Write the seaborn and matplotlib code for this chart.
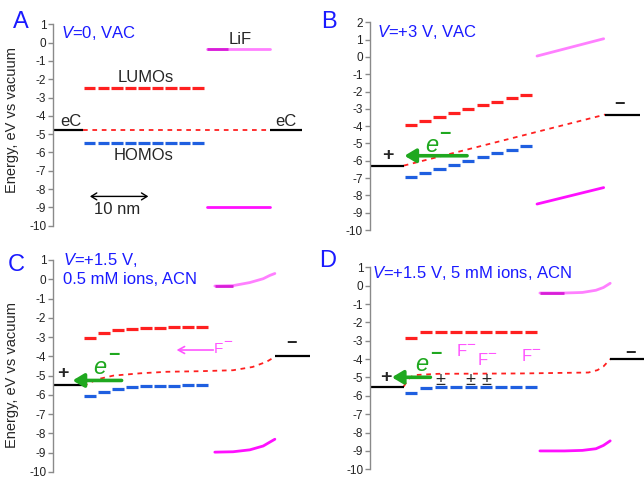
import numpy as np
import matplotlib
matplotlib.use("Agg")
import matplotlib.pyplot as plt
import seaborn as sns

sns.set_style("white")
plt.rcParams['font.family'] = ['Liberation Sans', 'DejaVu Sans']
plt.rcParams['axes.unicode_minus'] = False
plt.rcParams['mathtext.fontset'] = 'custom'
plt.rcParams['mathtext.it'] = 'Liberation Sans:italic'
plt.rcParams['mathtext.rm'] = 'Liberation Sans'

# ---------------- data ----------------
mol = [0, 1, 2, 3, 4, 5, 6, 7, 8]

# Panel A: V=0, VAC
lumo_A = [-2.47, -2.47, -2.47, -2.47, -2.47, -2.47, -2.47, -2.47, -2.47]
homo_A = [-5.47, -5.47, -5.47, -5.47, -5.47, -5.47, -5.47, -5.47, -5.47]
fermi_x_A = [0.0, 13.78]
fermi_y_A = [-4.8, -4.8]
lif_x_A = [9.14, 13.78]
lif_top_A = [-0.37, -0.37]
lif_bot_A = [-8.96, -8.96]
eL_A, eR_A = -4.8, -4.8

# Panel B: V=+3 V, VAC
lumo_B = [-3.95, -3.7, -3.47, -3.25, -3.02, -2.8, -2.6, -2.37, -2.18]
homo_B = [-6.92, -6.7, -6.47, -6.25, -6.02, -5.8, -5.58, -5.35, -5.12]
fermi_x_B = [0.0, 13.97]
fermi_y_B = [-6.28, -3.33]
lif_x_B = [9.24, 13.86]
lif_top_B = [0.05, 1.05]
lif_bot_B = [-8.5, -7.55]
eL_B, eR_B = -6.28, -3.33

# Panel C: V=+1.5 V, 0.5 mM ions, ACN
lumo_C = [-3.05, -2.8, -2.65, -2.57, -2.53, -2.52, -2.5, -2.5, -2.48]
homo_C = [-6.08, -5.83, -5.68, -5.58, -5.55, -5.53, -5.52, -5.5, -5.48]
fermi_x_C = [0.0, 0.95, 2.14, 4.05, 5.95, 8.33, 10.7, 12.1, 13.1, 13.7]
fermi_y_C = [-5.55, -5.2, -5.0, -4.88, -4.8, -4.77, -4.72, -4.55, -4.28, -4.02]
lif_x_C = [9.4, 10.7, 11.9, 12.86, 13.33, 13.69]
lif_top_C = [-0.35, -0.33, -0.17, 0.03, 0.2, 0.3]
lif_bot_C = [-8.97, -8.95, -8.85, -8.65, -8.45, -8.3]
eL_C, eR_C = -5.5, -4.0

# Panel D: V=+1.5 V, 5 mM ions, ACN
lumo_D = [-2.85, -2.52, -2.5, -2.5, -2.5, -2.5, -2.5, -2.5, -2.5]
homo_D = [-5.87, -5.55, -5.5, -5.5, -5.5, -5.5, -5.5, -5.5, -5.5]
fermi_x_D = [0.0, 0.29, 0.67, 2.33, 7.9, 12.3, 12.9, 13.3, 13.75]
fermi_y_D = [-5.5, -5.1, -4.87, -4.8, -4.78, -4.73, -4.6, -4.4, -4.0]
lif_x_D = [9.07, 10.7, 11.9, 12.8, 13.3, 13.75]
lif_top_D = [-0.4, -0.4, -0.37, -0.25, -0.1, 0.13]
lif_bot_D = [-9.0, -9.0, -8.97, -8.88, -8.7, -8.45]
eL_D, eR_D = -5.5, -4.0

ticks_A = [1, 0, -1, -2, -3, -4, -5, -6, -7, -8, -9, -10]
ticks_B = [2, 1, 0, -1, -2, -3, -4, -5, -6, -7, -8, -9, -10]

# ---------------- style ----------------
RED = "#ff2020"
BLUE = "#1f5fe0"
PINK = "#ff80ff"
DPINK = "#d81ed8"
MAG = "#ff10ff"
GREEN = "#1fa81f"
TBLUE = "#1a1aff"
FPINK = "#ff55ff"

W, H = 644, 480
fig = plt.figure(figsize=(6.44, 4.8), dpi=100)


def add_ax(left, right, top, bot):
    return fig.add_axes([left / W, 1 - bot / H, (right - left) / W, (bot - top) / H])


def style_ax(ax, xlim, ylim, ticks):
    ax.set_xlim(*xlim)
    ax.set_ylim(*ylim)
    ax.set_yticks(ticks)
    ax.set_yticklabels([str(t) for t in ticks])
    ax.set_xticks([])
    for s in ["top", "right", "bottom"]:
        ax.spines[s].set_visible(False)
    ax.spines["left"].set_color("#8a8a8a")
    ax.spines["left"].set_linewidth(1.0)
    ax.tick_params(axis="y", direction="out", length=3.5, width=1, color="#8a8a8a",
                   labelsize=8.5, labelcolor="#222222", pad=1.5, left=True)
    ax.set_facecolor("none")
    ax.grid(False)


def draw(ax, lumo, homo, fx, fy, lx, ltop, lbot, dark_end, eL, eR, xlim):
    left = np.array(mol) + 0.06
    right = np.array(mol) + 0.9
    ax.hlines(lumo, left, right, color=RED, lw=2.3)
    ax.hlines(homo, left, right, color=BLUE, lw=2.3)
    sns.lineplot(x=fx, y=fy, ax=ax, color=RED, lw=1.3, linestyle=(0, (2.6, 2.6)),
                 estimator=None, sort=False, legend=False)
    sns.lineplot(x=lx, y=ltop, ax=ax, color=PINK, lw=2.0, estimator=None, sort=False, legend=False)
    if dark_end is not None:
        ax.hlines(ltop[0], lx[0], dark_end, color=DPINK, lw=2.0)
    sns.lineplot(x=lx, y=lbot, ax=ax, color=MAG, lw=2.0, estimator=None, sort=False, legend=False)
    ax.hlines(eL, xlim[0], 0.0, color="black", lw=1.6, clip_on=False)
    ax.hlines(eR, fx[-1], xlim[1], color="black", lw=1.6, clip_on=False)


def green_arrow(ax, x0, x1, y):
    ax.annotate("", xy=(x1, y), xytext=(x0, y),
                arrowprops=dict(arrowstyle="-|>,head_length=0.75,head_width=0.45",
                                color=GREEN, lw=2.6, shrinkA=0, shrinkB=0, mutation_scale=9))


def e_label(ax, x, y, xs, ys):
    ax.text(x, y, "e", color=GREEN, fontsize=17, fontstyle="italic", ha="center", va="center")
    ax.text(xs, ys, "\u2212", color=GREEN, fontsize=14, fontweight="bold", ha="center", va="center")


def title(ax, x, y, s):
    ax.text(x, y, s, color=TBLUE, fontsize=12, ha="left", va="center")


# ---- Panel A ----
xlA = (-2.22, 16.2)
axA = add_ax(53.3, 302.3, 24.3, 225.7)
style_ax(axA, xlA, (-10, 1), ticks_A)
draw(axA, lumo_A, homo_A, fermi_x_A, fermi_y_A, lif_x_A, lif_top_A, lif_bot_A, 10.74, eL_A, eR_A, xlA)
title(axA, -1.65, 0.5, "$\\it{V}$=0, VAC")
axA.text(-0.94, -4.3, "eC", fontsize=12, ha="center", va="center")
axA.text(15.0, -4.3, "eC", fontsize=12, ha="center", va="center")
axA.text(4.62, -1.88, "LUMOs", fontsize=12, ha="center", va="center")
axA.text(4.44, -6.16, "HOMOs", fontsize=12, ha="center", va="center")
axA.text(11.6, 0.15, "LiF", fontsize=12, ha="center", va="center")
axA.annotate("", xy=(0.49, -8.4), xytext=(4.81, -8.4),
             arrowprops=dict(arrowstyle="<->,head_length=0.4,head_width=0.25", color="black",
                             lw=1.0, shrinkA=0, shrinkB=0))
axA.text(2.47, -9.09, "10 nm", fontsize=12, ha="center", va="center")

# ---- Panel B ----
xlB = (-2.36, 16.4)
axB = add_ax(369.7, 640.3, 22.3, 230.0)
style_ax(axB, xlB, (-10, 2), ticks_B)
draw(axB, lumo_B, homo_B, fermi_x_B, fermi_y_B, lif_x_B, lif_top_B, lif_bot_B, None, eL_B, eR_B, xlB)
title(axB, -1.85, 1.43, "$\\it{V}$=+3 V, VAC")
axB.text(-1.09, -5.67, "+", fontsize=14, fontweight="bold", ha="center", va="center")
green_arrow(axB, 4.39, 0.05, -5.71)
e_label(axB, 1.96, -5.14, 2.84, -4.47)
axB.text(14.97, -2.75, "\u2212", fontsize=13, fontweight="bold", ha="center", va="center")

# ---- Panel C ----
xlC = (-2.14, 16.2)
axC = add_ax(53.3, 310.0, 260.0, 472.0)
style_ax(axC, xlC, (-10, 1), ticks_A)
draw(axC, lumo_C, homo_C, fermi_x_C, fermi_y_C, lif_x_C, lif_top_C, lif_bot_C, 10.7, eL_C, eR_C, xlC)
title(axC, -1.43, 1.0, "$\\it{V}$=+1.5 V,")
title(axC, -1.43, -0.01, "0.5 mM ions, ACN")
axC.text(-1.43, -4.91, "+", fontsize=14, fontweight="bold", ha="center", va="center")
green_arrow(axC, 2.74, -0.76, -5.25)
e_label(axC, 1.19, -4.57, 2.21, -3.95)
axC.annotate("", xy=(6.67, -3.67), xytext=(9.29, -3.67),
             arrowprops=dict(arrowstyle="->,head_length=0.45,head_width=0.25", color=FPINK,
                             lw=1.2, shrinkA=0, shrinkB=0))
axC.text(9.64, -3.62, "F", color=FPINK, fontsize=11, ha="center", va="center")
axC.text(10.3, -3.26, "\u2212", color=FPINK, fontsize=11, ha="center", va="center")
axC.text(14.88, -3.35, "\u2212", fontsize=13, fontweight="bold", ha="center", va="center")

# ---- Panel D ----
xlD = (-2.22, 16.0)
axD = add_ax(370.3, 644.0, 267.3, 469.3)
style_ax(axD, xlD, (-10, 1), ticks_A)
draw(axD, lumo_D, homo_D, fermi_x_D, fermi_y_D, lif_x_D, lif_top_D, lif_bot_D, 10.7, eL_D, eR_D, xlD)
title(axD, -2.11, 0.67, "$\\it{V}$=+1.5 V, 5 mM ions, ACN")
axD.text(-1.18, -4.99, "+", fontsize=14, fontweight="bold", ha="center", va="center")
green_arrow(axD, 1.78, -0.78, -4.99)
e_label(axD, 1.22, -4.28, 2.11, -3.74)
for px in [2.44, 4.44, 5.49]:
    axD.text(px, -5.17, "\u00b1", fontsize=13, ha="center", va="center")
for fx_, fy_, sx_, sy_ in [(3.84, -3.59, 4.44, -3.23), (5.27, -4.08, 5.89, -3.74), (8.16, -3.86, 8.78, -3.5)]:
    axD.text(fx_, fy_, "F", color=FPINK, fontsize=12, ha="center", va="center")
    axD.text(sx_, sy_, "\u2212", color=FPINK, fontsize=11, ha="center", va="center")
axD.text(15.07, -3.69, "\u2212", fontsize=13, fontweight="bold", ha="center", va="center")

# ---- figure texts ----
for lab, px_, py_ in [("A", 21, 22.5), ("B", 328.7, 21.7), ("C", 16.7, 265), ("D", 328, 261)]:
    fig.text(px_ / W, 1 - py_ / H, lab, color=TBLUE, fontsize=17, ha="center", va="center")
for py_ in [120, 375]:
    fig.text(12.5 / W, 1 - py_ / H, "Energy, eV vs vacuum", fontsize=10.5, rotation=90,
             ha="center", va="center")

fig.savefig("out.png", dpi=100)
